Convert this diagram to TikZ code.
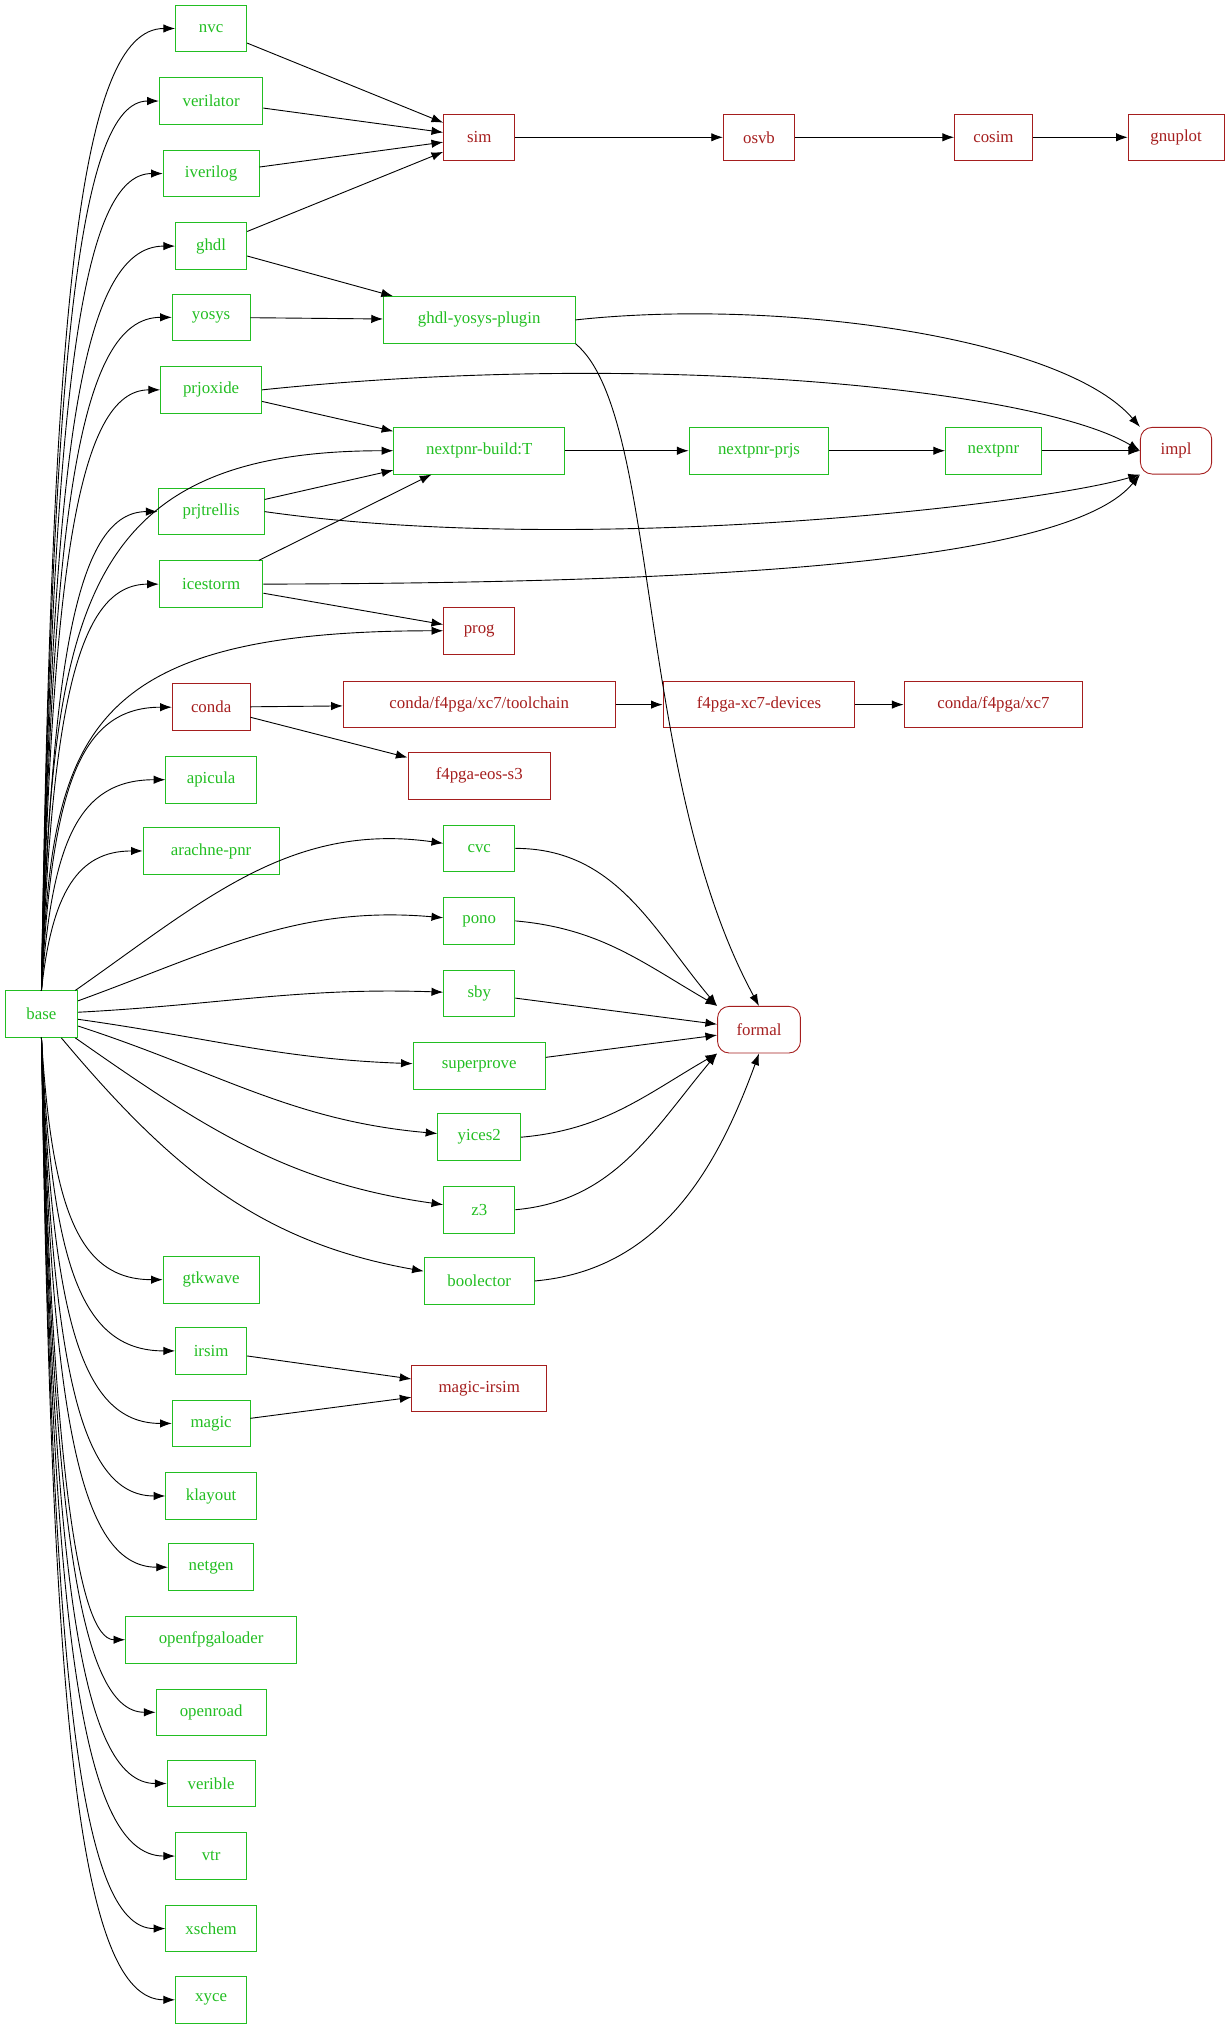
\documentclass[tikz,border=0pt]{standalone}
\usepackage{fontspec}
\setmainfont{Liberation Serif}
\usetikzlibrary{arrows.meta}
\begin{document}
\definecolor{gn}{RGB}{34,190,34}
\definecolor{rd}{RGB}{165,30,30}
\begin{tikzpicture}[x=1pt,y=-1pt,
  every node/.style={font=\fontsize{13}{15}\selectfont},
  g/.style={draw=gn,text=gn,minimum height=36pt,inner sep=0pt,line width=0.7pt},
  r/.style={draw=rd,text=rd,minimum height=36pt,inner sep=0pt,line width=0.7pt},
  rr/.style={r,rounded corners=9pt},
  e/.style={-{Latex[length=9pt,width=6.5pt]},line width=0.7pt}]
\useasboundingbox (0,0) rectangle (946,1565);
\node[g,minimum width=56pt] (base) at (32,783) {base};
\node[g,minimum width=55pt] (nvc) at (163,22) {nvc};
\node[g,minimum width=80pt] (verilator) at (163,78) {verilator};
\node[g,minimum width=74pt] (iverilog) at (163,134) {iverilog};
\node[g,minimum width=55pt] (ghdl) at (163,190) {ghdl};
\node[g,minimum width=60pt] (yosys) at (163,245) {yosys};
\node[g,minimum width=78pt] (prjoxide) at (163,301) {prjoxide};
\node[g,minimum width=82pt] (prjtrellis) at (163,395) {prjtrellis};
\node[g,minimum width=80pt] (icestorm) at (163,451) {icestorm};
\node[r,minimum width=60pt] (conda) at (163,546) {conda};
\node[g,minimum width=70pt] (apicula) at (163,602) {apicula};
\node[g,minimum width=105pt] (arachne) at (163,657) {arachne-pnr};
\node[g,minimum width=74pt] (gtkwave) at (163,988) {gtkwave};
\node[g,minimum width=55pt] (irsim) at (163,1043) {irsim};
\node[g,minimum width=60pt] (magic) at (163,1099) {magic};
\node[g,minimum width=70pt] (klayout) at (163,1155) {klayout};
\node[g,minimum width=66pt] (netgen) at (163,1210) {netgen};
\node[g,minimum width=132pt] (ofl) at (163,1266) {openfpgaloader};
\node[g,minimum width=85pt] (openroad) at (163,1322) {openroad};
\node[g,minimum width=68pt] (verible) at (163,1377) {verible};
\node[g,minimum width=55pt] (vtr) at (163,1433) {vtr};
\node[g,minimum width=70pt] (xschem) at (163,1489) {xschem};
\node[g,minimum width=55pt] (xyce) at (163,1544) {xyce};

\node[r,minimum width=55pt] (sim) at (370,106) {sim};
\node[r,minimum width=55pt] (osvb) at (586,106) {osvb};
\node[r,minimum width=60pt] (cosim) at (767,106) {cosim};
\node[r,minimum width=74pt] (gnuplot) at (908,106) {gnuplot};
\node[g,minimum width=148pt] (gyp) at (370,247) {ghdl-yosys-plugin};
\node[g,minimum width=132pt] (npb) at (370,348) {nextpnr-build:T};
\node[g,minimum width=108pt] (npp) at (586,348) {nextpnr-prjs};
\node[g,minimum width=74pt] (np) at (767,348) {nextpnr};
\node[rr,minimum width=55pt] (impl) at (908,348) {impl};
\node[r,minimum width=55pt] (prog) at (370,487) {prog};
\node[r,minimum width=210pt] (tc) at (370,544) {conda/f4pga/xc7/toolchain};
\node[r,minimum width=110pt] (eos) at (370,599) {f4pga-eos-s3};
\node[r,minimum width=148pt] (dev) at (586,544) {f4pga-xc7-devices};
\node[r,minimum width=138pt] (xc7) at (767,544) {conda/f4pga/xc7};
\node[g,minimum width=55pt] (cvc) at (370,655) {cvc};
\node[g,minimum width=55pt] (pono) at (370,711) {pono};
\node[g,minimum width=55pt] (sby) at (370,767) {sby};
\node[g,minimum width=102pt] (sp) at (370,823) {superprove};
\node[g,minimum width=64pt] (yices) at (370,878) {yices2};
\node[g,minimum width=55pt] (z3) at (370,934) {z3};
\node[g,minimum width=85pt] (bool) at (370,989) {boolector};
\node[rr,minimum width=64pt] (formal) at (586,795) {formal};
\node[r,minimum width=104pt] (mi) at (370,1072) {magic-irsim};

% base to left column
\foreach \t/\yy in {nvc/22,verilator/78,iverilog/134,ghdl/190,yosys/245,prjoxide/301,prjtrellis/395,icestorm/451,conda/546,apicula/602,arachne/657,npb/348,prog/487}
  \draw[e] (base.north) .. controls (40,{\yy+0.3*(765-\yy)}) and (60,\yy) .. (\t.west);
\foreach \t/\yy in {gtkwave/988,irsim/1043,magic/1099,klayout/1155,netgen/1210,ofl/1266,openroad/1322,verible/1377,vtr/1433,xschem/1489,xyce/1544}
  \draw[e] (base.south) .. controls (40,{\yy-0.3*(\yy-801)}) and (60,\yy) .. (\t.west);
\draw[e] (base) to[out=35,in=172] (cvc);
\draw[e] (base) to[out=20,in=175] (pono);
\draw[e] (base) to[out=3,in=178] (sby);
\draw[e] (base) to[out=-8,in=178] (sp);
\draw[e] (base) to[out=-18,in=175] (yices);
\draw[e] (base) to[out=-35,in=172] (z3);
\draw[e] (base) to[out=-50,in=170] (bool);

\draw[e] (nvc) -- (sim);
\draw[e] (verilator) -- (sim);
\draw[e] (iverilog) -- (sim);
\draw[e] (ghdl) -- (sim);
\draw[e] (ghdl) -- (gyp);
\draw[e] (yosys) -- (gyp);
\draw[e] (sim) -- (osvb);
\draw[e] (osvb) -- (cosim);
\draw[e] (cosim) -- (gnuplot);
\draw[e] (gyp.east) .. controls (600,230) and (820,260) .. (impl.north west);
\draw[e] (gyp.south east) .. controls (510,320) and (490,600) .. (formal.north);
\draw[e] (prjoxide.east) .. controls (500,270) and (800,300) .. (impl.west);
\draw[e] (prjoxide) -- (npb);
\draw[e] (prjtrellis) -- (npb);
\draw[e] (icestorm) -- (npb);
\draw[e] (prjtrellis.east) .. controls (450,430) and (800,390) .. (impl.south west);
\draw[e] (icestorm.east) .. controls (500,450) and (820,440) .. (impl.south west);
\draw[e] (icestorm) -- (prog);
\draw[e] (npb) -- (npp);
\draw[e] (npp) -- (np);
\draw[e] (np) -- (impl);
\draw[e] (conda) -- (tc);
\draw[e] (conda) -- (eos);
\draw[e] (tc) -- (dev);
\draw[e] (dev) -- (xc7);
\draw[e] (cvc.east) to[out=0,in=130] (formal.north west);
\draw[e] (pono.east) to[out=-5,in=150] (formal.north west);
\draw[e] (sby) -- (formal);
\draw[e] (sp) -- (formal);
\draw[e] (yices.east) to[out=5,in=210] (formal.south west);
\draw[e] (z3.east) to[out=5,in=230] (formal.south west);
\draw[e] (bool.east) to[out=5,in=250] (formal.south);
\draw[e] (irsim) -- (mi);
\draw[e] (magic) -- (mi);
\end{tikzpicture}
\end{document}
